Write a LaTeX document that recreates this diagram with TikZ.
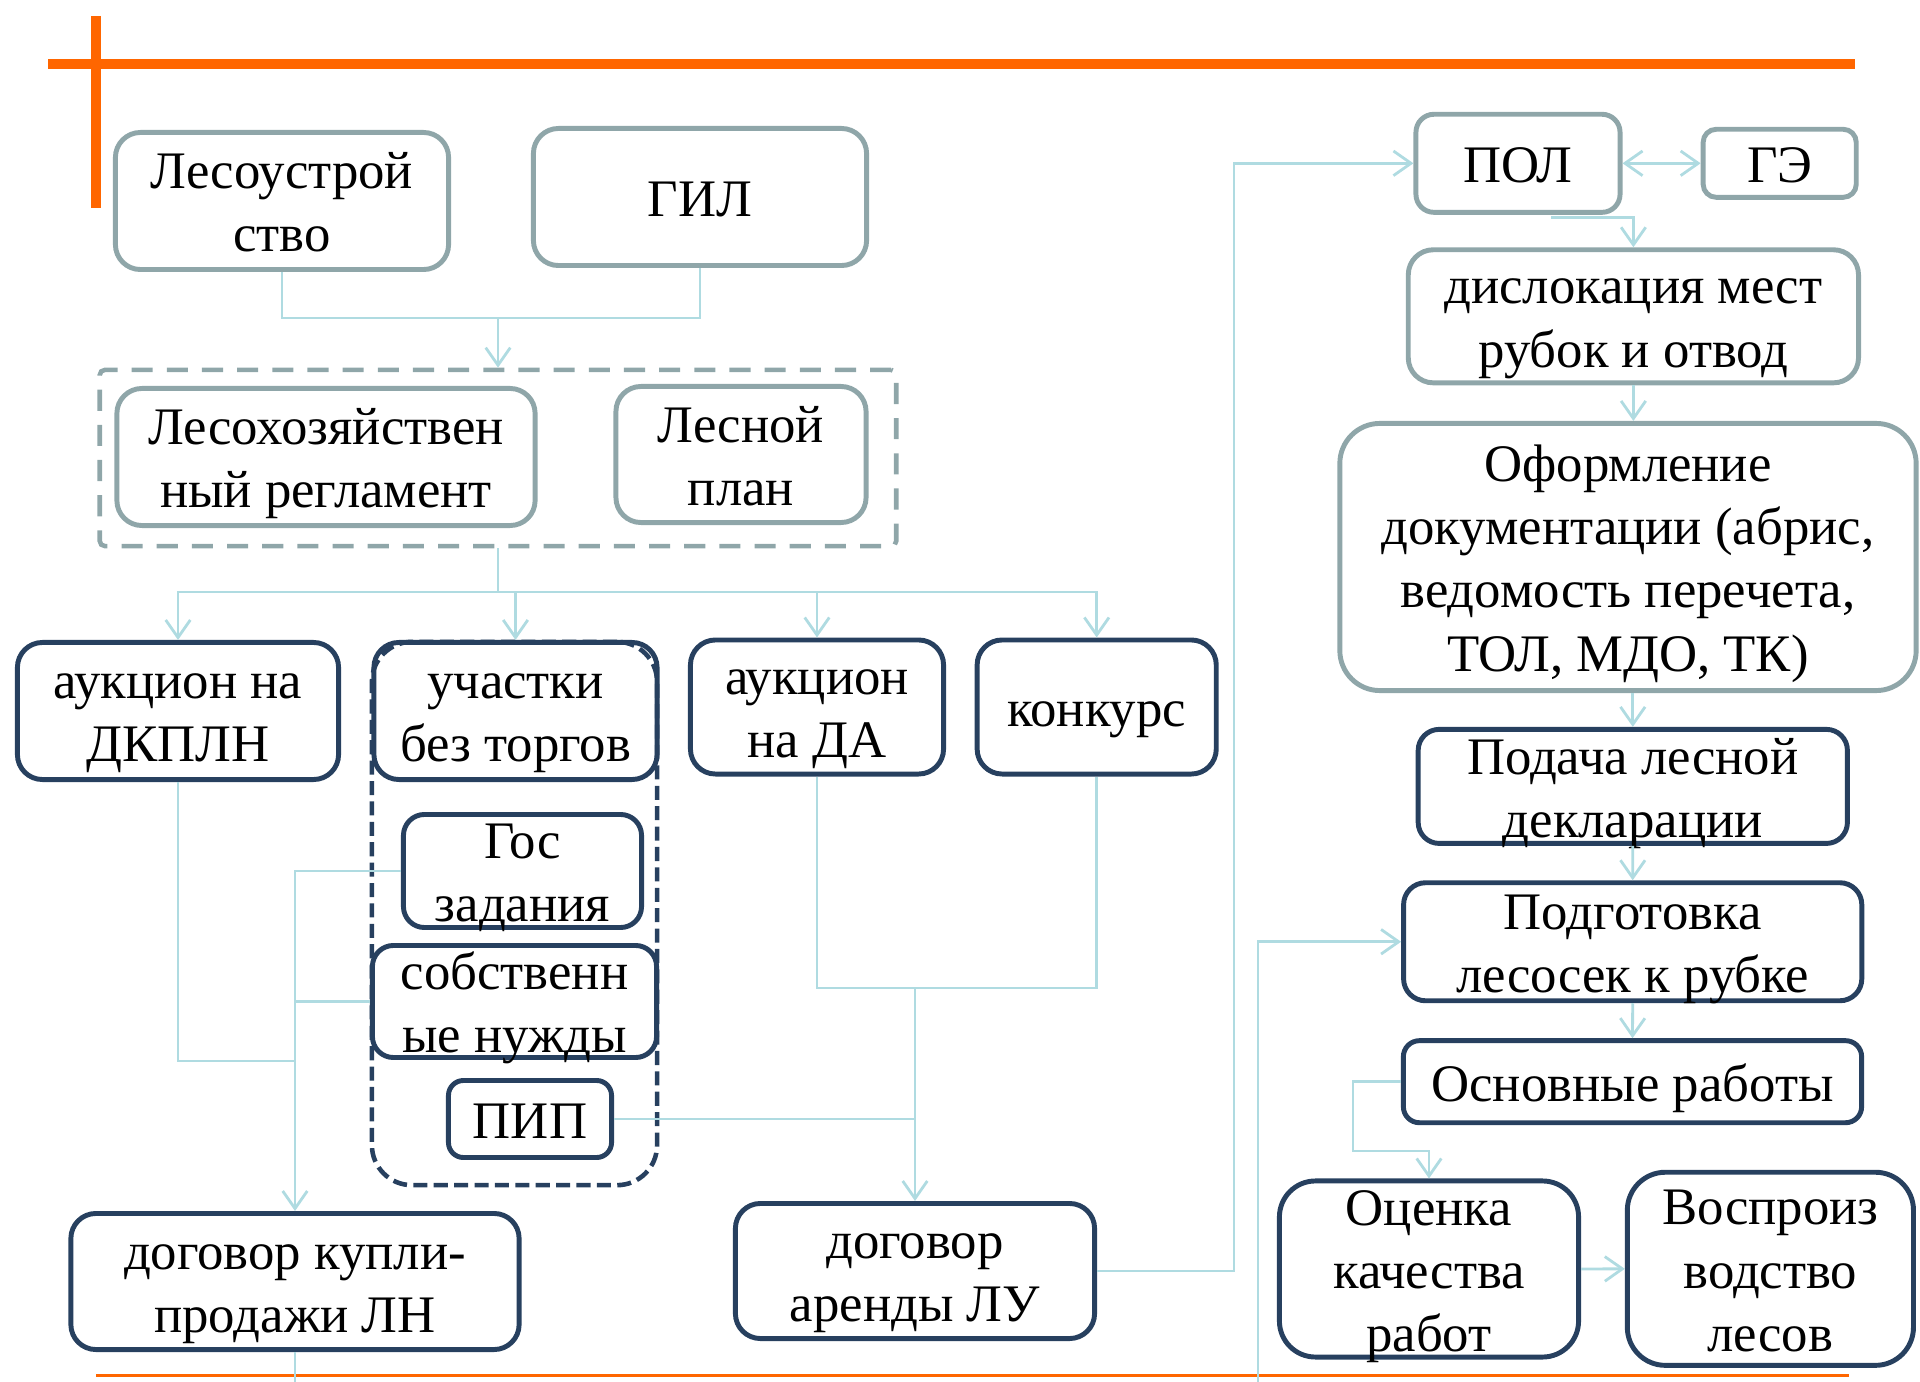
\documentclass[tikz,border=0pt]{standalone}
\usepackage{fontspec}
\setmainfont{Liberation Serif}
\usepackage{xcolor}
\usetikzlibrary{arrows.meta}

\definecolor{orangeline}{HTML}{FF6600}
\definecolor{boxgrey}{HTML}{8FA6A9}
\definecolor{boxnavy}{HTML}{27405F}
\definecolor{linkblue}{HTML}{AFDBE1}

\newcommand{\tstrut}{\rule[-3.5pt]{0pt}{18pt}}

\begin{document}
\begin{tikzpicture}[x=0.01cm, y=-0.01cm,
        greybox/.style={draw=boxgrey, line width=1.4pt, fill=white, rounded corners=0.25cm, align=center, inner sep=0pt, font=\fontsize{15pt}{18pt}\selectfont},
        navybox/.style={greybox, draw=boxnavy},
        link/.style={draw=linkblue, line width=0.8pt},
        arrow/.style={link, -{Straight Barb[length=5pt, width=7pt]}}]
    \useasboundingbox (0, 0) rectangle (1920, 1382);

    \draw[orangeline, line width=2.8pt] (48, 64) -- (1855, 64);
    \draw[orangeline, line width=2.8pt] (96, 16) -- (96, 208);
    \draw[orangeline, line width=1.1pt] (96, 1375.5) -- (1849, 1375.5);

    \node[draw=boxgrey, line width=1.3pt, dash pattern=on 6pt off 4pt, rounded corners=0.05cm, minimum width=7.96cm, minimum height=1.76cm] (base) at (498, 458) {};

    \node[greybox, minimum width=3.33cm, minimum height=1.37cm] (lesu) at (282, 201) {\tstrut Лесоустрой\\\tstrut ство};
    \node[greybox, minimum width=3.33cm, minimum height=1.37cm] (gil) at (700, 197) {\tstrut ГИЛ};
    \node[greybox, minimum width=4.18cm, minimum height=1.37cm] (reglam) at (326, 457) {\tstrut Лесохозяйствен\\\tstrut ный регламент};
    \node[greybox, minimum width=2.50cm, minimum height=1.36cm] (plan) at (741, 454.5) {\tstrut Лесной\\\tstrut план};

    \node[navybox, minimum width=3.21cm, minimum height=1.37cm] (dkpln) at (178, 711) {\tstrut аукцион на\\\tstrut ДКПЛН};
    \node[navybox, minimum width=2.83cm, minimum height=1.37cm] (uch) at (515.5, 711) {\tstrut участки\\\tstrut без торгов};
    \node[navybox, minimum width=2.38cm, minimum height=1.13cm, inner ysep=-0.07cm, rounded corners=0.21cm] (gos) at (522.5, 871) {\tstrut Гос\\\tstrut задания};
    \node[navybox, minimum width=2.84cm, minimum height=1.12cm, inner ysep=-0.075cm, rounded corners=0.21cm] (sobst) at (514.5, 1001.5) {\tstrut собственн\\\tstrut ые нужды};
    \node[navybox, minimum width=1.63cm, minimum height=0.77cm, rounded corners=0.15cm] (pip) at (530, 1119) {\tstrut ПИП};
    \node[draw=boxnavy, line width=1.3pt, dash pattern=on 4pt off 1.8pt, rounded corners=0.4cm, minimum width=2.85cm, minimum height=5.43cm] (group) at (514.5, 913.5) {};
    \node[navybox, minimum width=4.48cm, minimum height=1.36cm] (kupli) at (295, 1281.5) {\tstrut договор купли-\\\tstrut продажи ЛН};
    \node[navybox, minimum width=2.53cm, minimum height=1.34cm] (auc2) at (817, 707) {\tstrut аукцион\\\tstrut на ДА};
    \node[navybox, minimum width=2.39cm, minimum height=1.34cm] (konk) at (1096.7, 707) {\tstrut конкурс};
    \node[navybox, minimum width=3.59cm, minimum height=1.35cm] (arenda) at (915, 1271) {\tstrut договор\\\tstrut аренды ЛУ};

    \node[greybox, minimum width=2.04cm, minimum height=0.98cm, rounded corners=0.18cm] (pol) at (1518, 163.3) {\tstrut ПОЛ};
    \node[greybox, minimum width=1.53cm, minimum height=0.68cm, rounded corners=0.13cm] (ge) at (1779.7, 163.3) {\tstrut ГЭ};
    \node[greybox, minimum width=4.50cm, minimum height=1.33cm] (disl) at (1633.4, 316.3) {\tstrut дислокация мест\\\tstrut рубок и отвод};
    \node[greybox, minimum width=5.76cm, minimum height=2.67cm, rounded corners=0.4cm] (oform) at (1628, 557) {\tstrut Оформление\\\tstrut документации (абрис,\\\tstrut ведомость перечета,\\\tstrut ТОЛ, МДО, ТК)};
    \node[navybox, minimum width=4.29cm, minimum height=1.14cm, inner ysep=-0.065cm, rounded corners=0.21cm] (podacha) at (1632.8, 786.4) {\tstrut Подача лесной\\\tstrut декларации};
    \node[navybox, minimum width=4.58cm, minimum height=1.18cm, inner ysep=-0.045cm, rounded corners=0.22cm] (podg) at (1632.7, 941.75) {\tstrut Подготовка\\\tstrut лесосек к рубке};
    \node[navybox, minimum width=4.58cm, minimum height=0.82cm, rounded corners=0.16cm] (osn) at (1632.5, 1081.7) {\tstrut Основные работы};
    \node[navybox, minimum width=2.99cm, minimum height=1.76cm, inner ysep=-0.073cm, rounded corners=0.36cm] (ocenka) at (1429, 1269) {\tstrut Оценка\\\tstrut качества\\\tstrut работ};
    \node[navybox, minimum width=2.86cm, minimum height=1.93cm, rounded corners=0.38cm] (vospr) at (1770.4, 1268.8) {\tstrut Воспроиз\\\tstrut водство\\\tstrut лесов};

    \coordinate (tj) at (498, 318);
    \coordinate (bj) at (498, 592);
    \coordinate (lj) at (295, 1061);
    \coordinate (rj) at (915, 988);
    \coordinate (cj) at (1234, 700);
    \coordinate (kend) at (295, 1382);
    \coordinate (pend) at (1258, 1382);
    \coordinate (oj) at (1353, 1151);

    \draw[link] (lesu.south) |- (tj) -| (gil.south);
    \draw[arrow] (tj) -- (base.north);
    \draw[link] (base.south) -- (bj);
    \draw[arrow] (bj) -| (dkpln.north);
    \draw[arrow] (bj) -| (uch.north);
    \draw[arrow] (bj) -| (auc2.north);
    \draw[arrow] (bj) -| (konk.north);
    \draw[link] (dkpln.south) |- (lj);
    \draw[link] (sobst.west) -- (sobst.west -| lj);
    \draw[arrow] (gos.west) -| (kupli.north);
    \draw[link] (kupli.south) -- (kend);
    \draw[link] (auc2.south) |- (rj) -| (konk.south);
    \draw[arrow] (rj) -- (arenda.north);
    \draw[link] (pip.east) -- (pip.east -| rj);
    \draw[arrow] (arenda.east) -| (cj) |- (pol.west);
    \draw[link, {Straight Barb[length=5pt, width=7pt]}-{Straight Barb[length=5pt, width=7pt]}] (pol.east) -- (ge.west);
    \draw[arrow] ([xshift=0.33cm, yshift=-0.03cm]pol.south) -| (disl.north);
    \draw[arrow] (disl.south) -- (disl.south |- oform.north);
    \draw[arrow] (podacha.north |- oform.south) -- (podacha.north);
    \draw[arrow] (podacha.south) -- (podg.north);
    \draw[arrow] (podg.south) -- (osn.north);
    \draw[arrow] (pend) |- (podg.west);
    \draw[arrow] (osn.west) -| (oj) -| (ocenka.north);
    \draw[arrow] (ocenka.east) -- (vospr.west);
\end{tikzpicture}
\end{document}
